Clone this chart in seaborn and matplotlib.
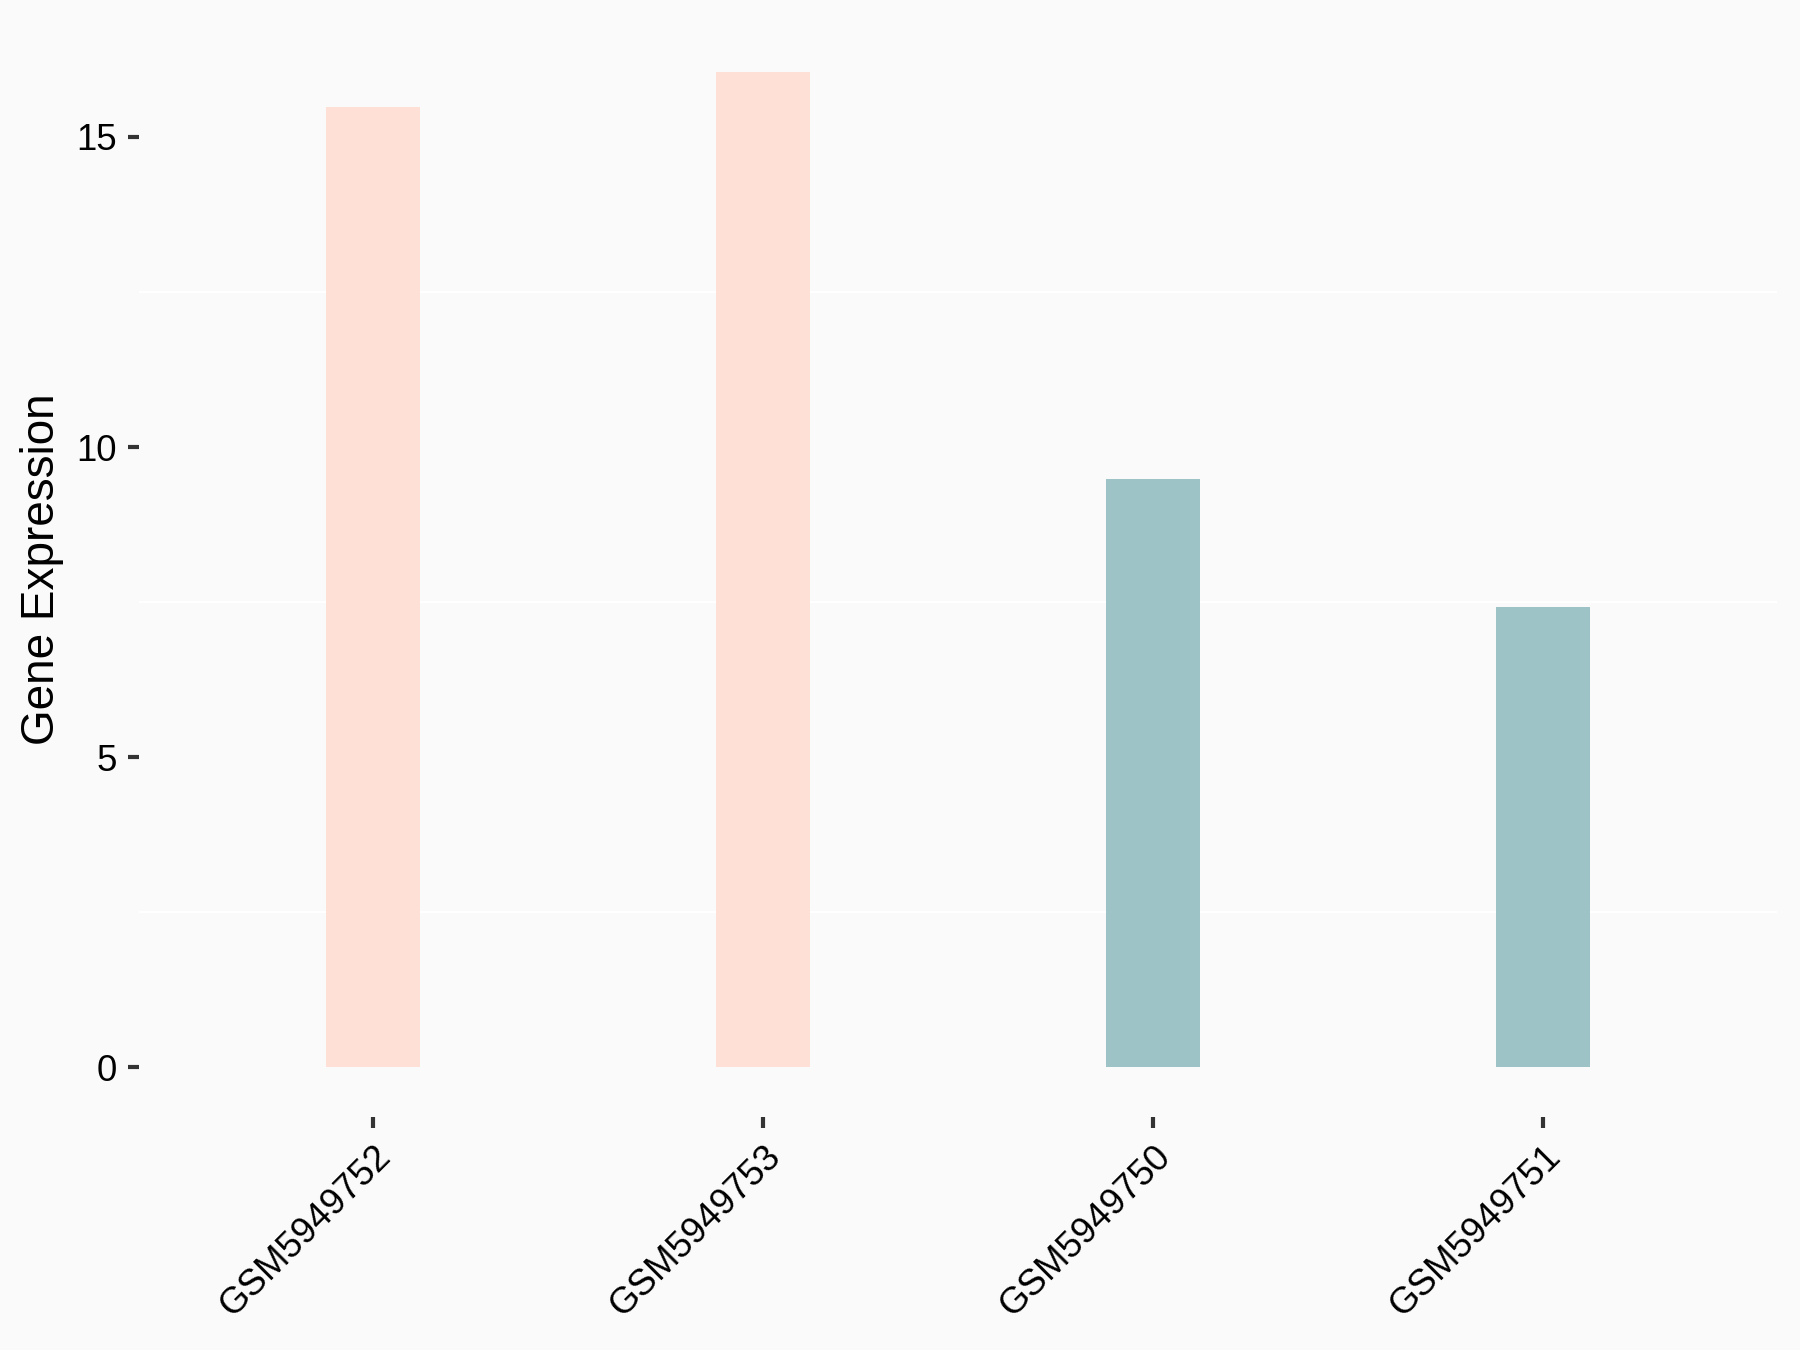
import pandas as pd
import matplotlib.pyplot as plt
import seaborn as sns

# values
samples = ['GSM5949752', 'GSM5949753', 'GSM5949750', 'GSM5949751']
expression = [15.49, 16.05, 9.49, 7.42]
groups = ['Treat', 'Treat', 'Control', 'Control']
group_colors = {'Treat': '#FEE0D6', 'Control': '#9DC3C7'}

df = pd.DataFrame({'sample': samples, 'expr': expression, 'group': groups})

sns.set_style('white', {'axes.facecolor': '#FAFAFA', 'figure.facecolor': '#FAFAFA'})
plt.rcParams['font.family'] = ['Liberation Sans', 'DejaVu Sans']

fig = plt.figure(figsize=(6, 4.5), dpi=300)
ax = fig.add_axes([139 / 1800, 1 - 1117 / 1350, (1777 - 139) / 1800, (1117 - 22) / 1350])

sns.barplot(data=df, x='sample', y='expr', hue='group', palette=group_colors,
            order=samples, dodge=False, width=0.24, legend=False,
            saturation=1, linewidth=0, edgecolor='none', ax=ax)

# ggplot-like expansion
ymax = max(expression)
ax.set_ylim(-0.05 * ymax, ymax * 1.05)
ax.set_xlim(-0.6, len(samples) - 0.4)

ax.set_yticks([0, 5, 10, 15])
ax.set_yticks([2.5, 7.5, 12.5], minor=True)
ax.grid(False)
ax.grid(True, which='minor', axis='y', color='white', linewidth=0.5)
ax.set_axisbelow(True)
for s in ax.spines.values():
    s.set_visible(False)

ax.tick_params(axis='both', which='major', length=2.7, width=1.0, color='#333333',
               labelsize=8.8, labelcolor='black', pad=2.6)
ax.tick_params(axis='y', which='minor', length=0)
ax.tick_params(axis='x', bottom=True, left=False)
ax.tick_params(axis='y', left=True)
plt.setp(ax.get_xticklabels(), rotation=45, ha='right', rotation_mode='anchor')

ax.set_xlabel('')
ax.set_ylabel('Gene Expression', fontsize=11, color='black', labelpad=3)

fig.savefig('out.png', dpi=300, facecolor='#FAFAFA')
